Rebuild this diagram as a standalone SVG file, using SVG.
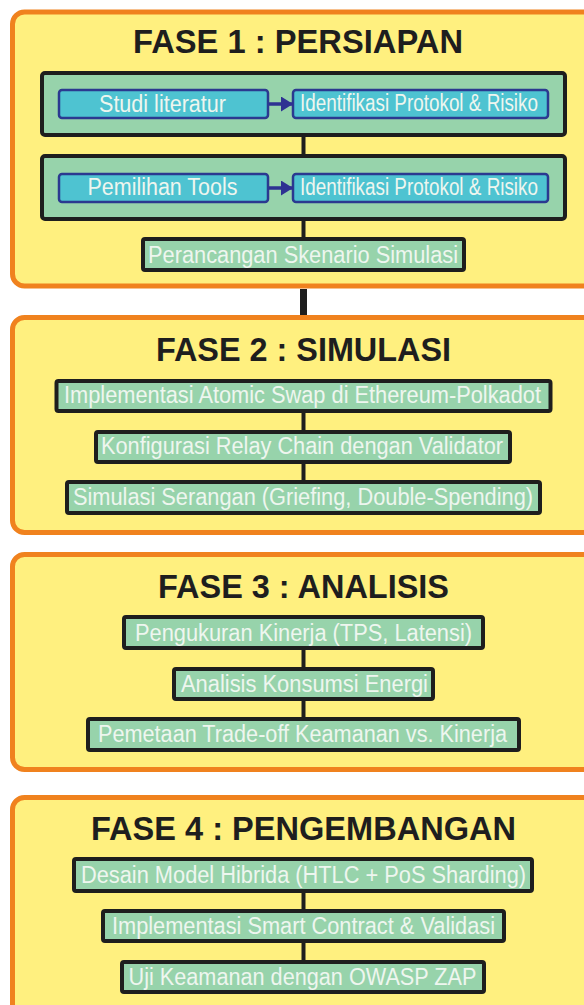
<svg xmlns="http://www.w3.org/2000/svg" width="584" height="1005" viewBox="0 0 584 1005">
<style>
.phase{fill:#FFF07F;stroke:#F0821E;stroke-width:5}
.group{fill:#97D3AB;stroke:#1E1E1E;stroke-width:4}
.step{fill:#97D3AB;stroke:#1E1E1E;stroke-width:4}
.sub{fill:#4EC3D1;stroke:#2B3990;stroke-width:2.5}
.title{font-family:"Liberation Sans",Arial,sans-serif;font-weight:bold;font-size:33px;fill:#1E1E1E}
.lbl{font-family:"Liberation Sans",Arial,sans-serif;font-size:23px;fill:#EEF6EF}
.con{stroke:#1E1E1E;stroke-width:4;fill:none}
.arr{stroke:#2E3192;stroke-width:3.5;fill:none}
</style>
<defs>
<marker id="ah" viewBox="0 0 12 15" refX="12" refY="7.5" markerWidth="12" markerHeight="15" markerUnits="userSpaceOnUse" orient="auto">
<path d="M0,0 L12,7.5 L0,15 z" fill="#2E3192"/>
</marker>
</defs>
<rect width="584" height="1005" fill="#FFFFFF"/>
<g id="fase1">
<rect class="phase" x="12.5" y="12" width="600" height="274" rx="12"/>
<text class="title" x="133" y="53" textLength="330" lengthAdjust="spacingAndGlyphs">FASE 1 : PERSIAPAN</text>
</g>
<g id="grup1">
<rect class="group" x="42" y="73" width="523" height="62" rx="3"/>
</g>
<g id="grup2">
<rect class="group" x="42" y="156" width="523" height="63" rx="3"/>
</g>
<g id="studi">
<rect class="sub" x="59" y="90" width="209" height="28" rx="3"/>
<text class="lbl" x="99" y="112" font-size="23" textLength="127" lengthAdjust="spacingAndGlyphs">Studi literatur</text>
</g>
<g id="identifikasi1">
<rect class="sub" x="293" y="90" width="255" height="28" rx="3"/>
<text class="lbl" x="300" y="111" font-size="19" textLength="238" lengthAdjust="spacingAndGlyphs">Identifikasi Protokol &amp; Risiko</text>
</g>
<g id="pemilihan">
<rect class="sub" x="59" y="174" width="209" height="28" rx="3"/>
<text class="lbl" x="87.5" y="195" font-size="23" textLength="150" lengthAdjust="spacingAndGlyphs">Pemilihan Tools</text>
</g>
<g id="identifikasi2">
<rect class="sub" x="293" y="174" width="255" height="28" rx="3"/>
<text class="lbl" x="300" y="195" font-size="19" textLength="238" lengthAdjust="spacingAndGlyphs">Identifikasi Protokol &amp; Risiko</text>
</g>
<g id="perancangan">
<rect class="step" x="143" y="239" width="321" height="31" rx="2"/>
<text class="lbl" x="148" y="263" font-size="24" textLength="310" lengthAdjust="spacingAndGlyphs">Perancangan Skenario Simulasi</text>
</g>
<g id="fase2">
<rect class="phase" x="12.5" y="317.5" width="600" height="215" rx="12"/>
<text class="title" x="156" y="361" textLength="295" lengthAdjust="spacingAndGlyphs">FASE 2 : SIMULASI</text>
</g>
<g id="atomic">
<rect class="step" x="56.5" y="381" width="494" height="30" rx="2"/>
<text class="lbl" x="64" y="403" textLength="477" lengthAdjust="spacingAndGlyphs">Implementasi Atomic Swap di Ethereum-Polkadot</text>
</g>
<g id="relay">
<rect class="step" x="96" y="432" width="414" height="30" rx="2"/>
<text class="lbl" x="101" y="454" textLength="402" lengthAdjust="spacingAndGlyphs">Konfigurasi Relay Chain dengan Validator</text>
</g>
<g id="serangan">
<rect class="step" x="67" y="482" width="473" height="31" rx="2"/>
<text class="lbl" x="73" y="504.5" textLength="460" lengthAdjust="spacingAndGlyphs">Simulasi Serangan (Griefing, Double-Spending)</text>
</g>
<g id="fase3">
<rect class="phase" x="12.5" y="554.5" width="600" height="215" rx="12"/>
<text class="title" x="158" y="598" textLength="291" lengthAdjust="spacingAndGlyphs">FASE 3 : ANALISIS</text>
</g>
<g id="kinerja">
<rect class="step" x="124" y="617" width="359" height="31" rx="2"/>
<text class="lbl" x="135" y="640.5" textLength="337" lengthAdjust="spacingAndGlyphs">Pengukuran Kinerja (TPS, Latensi)</text>
</g>
<g id="energi">
<rect class="step" x="174" y="669" width="259" height="30" rx="2"/>
<text class="lbl" x="181" y="691.5" textLength="247" lengthAdjust="spacingAndGlyphs">Analisis Konsumsi Energi</text>
</g>
<g id="tradeoff">
<rect class="step" x="88" y="719" width="431" height="31" rx="2"/>
<text class="lbl" x="98" y="741.5" textLength="409" lengthAdjust="spacingAndGlyphs">Pemetaan Trade-off Keamanan vs. Kinerja</text>
</g>
<g id="fase4">
<rect class="phase" x="12.5" y="797.5" width="600" height="300" rx="12"/>
<text class="title" x="91" y="840" textLength="425" lengthAdjust="spacingAndGlyphs">FASE 4 : PENGEMBANGAN</text>
</g>
<g id="hibrida">
<rect class="step" x="74" y="859" width="458" height="32" rx="2"/>
<text class="lbl" x="81" y="883" textLength="445" lengthAdjust="spacingAndGlyphs">Desain Model Hibrida (HTLC + PoS Sharding)</text>
</g>
<g id="smartcontract">
<rect class="step" x="103" y="911" width="401" height="30" rx="2"/>
<text class="lbl" x="112" y="933.5" textLength="383" lengthAdjust="spacingAndGlyphs">Implementasi Smart Contract &amp; Validasi</text>
</g>
<g id="owasp">
<rect class="step" x="122" y="962" width="362" height="30" rx="2"/>
<text class="lbl" x="128.5" y="984.5" textLength="348" lengthAdjust="spacingAndGlyphs">Uji Keamanan dengan OWASP ZAP</text>
</g>
<g id="connectors">
<line class="con" x1="303.5" y1="137" x2="303.5" y2="154"/>
<line class="con" x1="303.5" y1="221" x2="303.5" y2="237"/>
<line x1="303.5" y1="289" x2="303.5" y2="315" stroke="#1E1E1E" stroke-width="7"/>
<line class="con" x1="303.5" y1="413" x2="303.5" y2="430"/>
<line class="con" x1="303.5" y1="464" x2="303.5" y2="480"/>
<line class="con" x1="303.5" y1="650" x2="303.5" y2="667"/>
<line class="con" x1="303.5" y1="701" x2="303.5" y2="717"/>
<line class="con" x1="303.5" y1="893" x2="303.5" y2="909"/>
<line class="con" x1="303.5" y1="943" x2="303.5" y2="960"/>
<line class="arr" x1="269" y1="104" x2="293" y2="104" marker-end="url(#ah)"/>
<line class="arr" x1="269" y1="188" x2="293" y2="188" marker-end="url(#ah)"/>
</g>
</svg>
